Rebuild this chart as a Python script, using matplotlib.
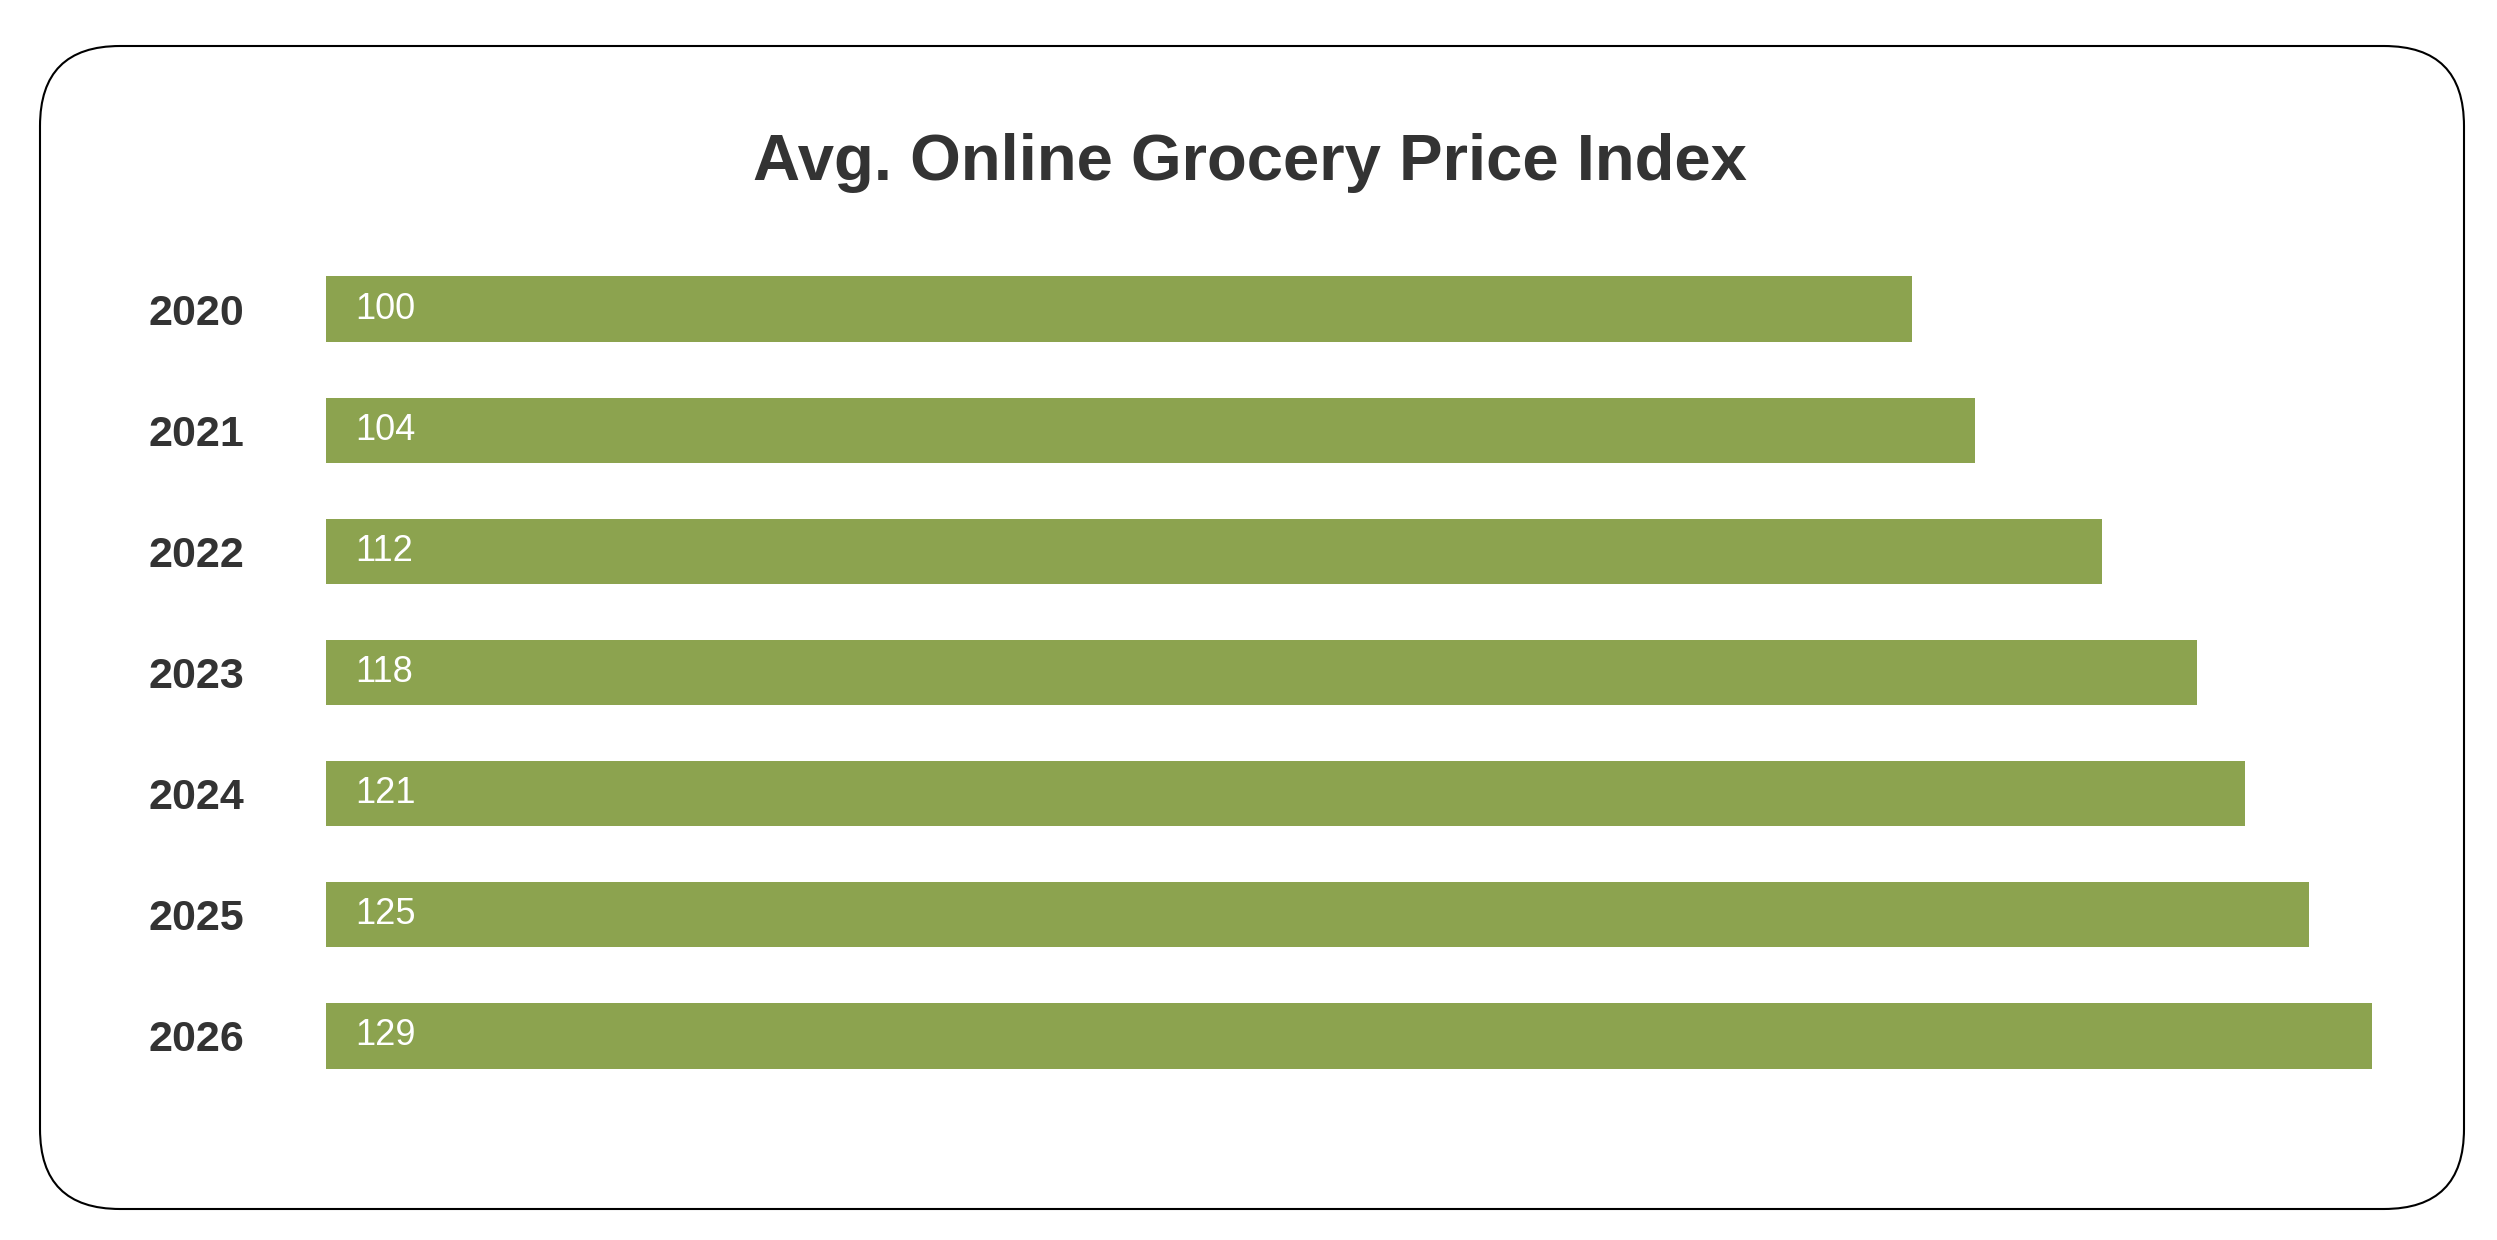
import matplotlib
matplotlib.use("Agg")
import matplotlib.pyplot as plt
import matplotlib.patches as mpatches
from matplotlib.transforms import IdentityTransform

years = ["2020", "2021", "2022", "2023", "2024", "2025", "2026"]
values = [100, 104, 112, 118, 121, 125, 129]
title = "Avg. Online Grocery Price Index"

BAR = "#8ca34f"
TXT = "#333333"
W, H, DPI = 2497, 1240, 100

plt.rcParams['font.family'] = ['Liberation Sans', 'DejaVu Sans']

fig = plt.figure(figsize=(W / DPI, H / DPI), dpi=DPI)
fig.patch.set_facecolor("white")

# rounded frame in pixel coords
box = mpatches.FancyBboxPatch((40, H - 1209), 2424, 1163,
                              boxstyle="round,pad=0,rounding_size=80",
                              transform=IdentityTransform(),
                              facecolor="none", edgecolor="black", lw=1.5,
                              zorder=-1)
fig.patches.append(box)

ax_left = 326 / W
ax_width = (15.86 * 130) / W
ax_top = 1 - 248.5 / H
ax_bottom = 1 - 1096.5 / H
ax = fig.add_axes([ax_left, ax_bottom, ax_width, ax_top - ax_bottom])
ax.set_facecolor("none")

pos = list(range(len(years)))
ax.barh(pos, values, height=0.54, color=BAR)
ax.set_xlim(0, 130)
ax.set_ylim(len(years) - 0.5, -0.5)

for p, v in zip(pos, values):
    ax.annotate(str(v), xy=(0, p), xytext=(21, 0), textcoords="offset points",
                ha="left", va="center", color="white", fontsize=26)

ax.set_yticks(pos)
ax.set_yticklabels(years, fontsize=31, fontweight="bold", color=TXT)
ax.tick_params(axis="y", length=0, pad=59)
ax.set_xticks([])
for s in ax.spines.values():
    s.set_visible(False)

fig.text(0.5005, 1 - 180 / H, title, ha="center", va="baseline",
         fontsize=47, fontweight="bold", color=TXT)

fig.savefig("out.png", dpi=DPI, facecolor="white")
